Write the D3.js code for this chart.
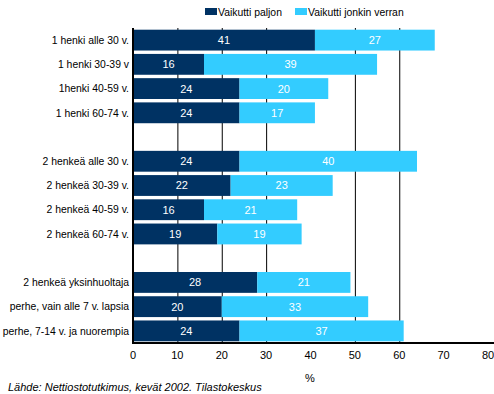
<!DOCTYPE html>
<html>
<head>
<meta charset="utf-8">
<script src="https://cdn.jsdelivr.net/npm/d3@7"></script>
<style>
    body { margin: 0; background: #fff; }
    text { font-family: "Liberation Sans", Arial, sans-serif; }
</style>
</head>
<body>
<div id="chart"></div>
<script>
// categories (gap1/gap2 are empty rows between the groups)
var categories = ["1 henki alle 30 v.", "1 henki 30-39 v", "1henki 40-59 v.", "1 henki 60-74 v.",
    "gap1",
    "2 henkeä alle 30 v.", "2 henkeä 30-39 v.", "2 henkeä 40-59 v.", "2 henkeä 60-74 v.",
    "gap2",
    "2 henkeä yksinhuoltaja", "perhe, vain alle 7 v. lapsia", "perhe, 7-14 v. ja nuorempia"];
var paljon = [41, 16, 24, 24, null, 24, 22, 16, 19, null, 28, 20, 24];
var jonkin = [27, 39, 20, 17, null, 40, 23, 21, 19, null, 21, 33, 37];
var seriesNames = ["Vaikutti paljon", "Vaikutti jonkin verran"];
var xTicks = [0, 10, 20, 30, 40, 50, 60, 70, 80];
var gridTicks = [10, 20, 30, 50, 60];

var colors = ["#003263", "#33ccff"];
var width = 494, height = 394;
var margin = { top: 28, right: 6, bottom: 51, left: 133 };

var svg = d3.select('#chart').append('svg')
    .attr('width', width)
    .attr('height', height);

var x = d3.scaleLinear()
    .domain([0, 80])
    .range([margin.left, margin.left + 355]);

var y = d3.scaleBand()
    .domain(categories)
    .range([margin.top, height - margin.bottom])
    .paddingInner(0.14)
    .paddingOuter(0.07);

var rows = categories.map(function (c, i) {
    return { cat: c, a: paljon[i], b: jonkin[i] };
}).filter(function (d) { return d.a !== null; });

// gridlines
svg.selectAll('line.grid')
    .data(gridTicks)
    .enter().append('line')
    .attr('class', 'grid')
    .attr('x1', function (d) { return x(d) + 0.5; })
    .attr('x2', function (d) { return x(d) + 0.5; })
    .attr('y1', margin.top)
    .attr('y2', height - margin.bottom)
    .attr('stroke', '#000')
    .attr('stroke-width', 1);

// bars
var bar = svg.selectAll('g.row')
    .data(rows)
    .enter().append('g')
    .attr('class', 'row');

bar.append('rect')
    .attr('x', x(0))
    .attr('y', function (d) { return y(d.cat); })
    .attr('width', function (d) { return x(d.a) - x(0); })
    .attr('height', y.bandwidth())
    .attr('fill', colors[0]);

bar.append('rect')
    .attr('x', function (d) { return x(d.a); })
    .attr('y', function (d) { return y(d.cat); })
    .attr('width', function (d) { return x(d.a + d.b) - x(d.a); })
    .attr('height', y.bandwidth())
    .attr('fill', colors[1]);

bar.append('text')
    .attr('x', function (d) { return (x(0) + x(d.a)) / 2; })
    .attr('y', function (d) { return y(d.cat) + y.bandwidth() / 2; })
    .attr('dy', '.36em')
    .attr('text-anchor', 'middle')
    .attr('fill', '#fff')
    .style('font-size', '11px')
    .text(function (d) { return d.a; });

bar.append('text')
    .attr('x', function (d) { return (x(d.a) + x(d.a + d.b)) / 2; })
    .attr('y', function (d) { return y(d.cat) + y.bandwidth() / 2; })
    .attr('dy', '.36em')
    .attr('text-anchor', 'middle')
    .attr('fill', '#fff')
    .style('font-size', '11px')
    .text(function (d) { return d.b; });

// category labels
svg.selectAll('text.cat')
    .data(rows)
    .enter().append('text')
    .attr('class', 'cat')
    .attr('x', margin.left - 4)
    .attr('y', function (d) { return y(d.cat) + y.bandwidth() / 2; })
    .attr('dy', '.36em')
    .attr('text-anchor', 'end')
    .attr('fill', '#000')
    .style('font-size', '10.4px')
    .text(function (d) { return d.cat; });

// axes lines
svg.append('line')
    .attr('x1', x(0))
    .attr('x2', x(0))
    .attr('y1', margin.top)
    .attr('y2', height - margin.bottom + 1)
    .attr('stroke', '#000')
    .attr('stroke-width', 2);

svg.append('line')
    .attr('x1', x(0) - 1)
    .attr('x2', width)
    .attr('y1', height - margin.bottom)
    .attr('y2', height - margin.bottom)
    .attr('stroke', '#000')
    .attr('stroke-width', 2);

// x tick labels
svg.selectAll('text.tick')
    .data(xTicks)
    .enter().append('text')
    .attr('class', 'tick')
    .attr('x', function (d) { return x(d); })
    .attr('y', height - margin.bottom + 16)
    .attr('text-anchor', 'middle')
    .style('font-size', '11px')
    .text(function (d) { return d; });

svg.append('text')
    .attr('x', 310)
    .attr('y', 382)
    .attr('text-anchor', 'middle')
    .style('font-size', '11px')
    .text('%');

svg.append('text')
    .attr('x', 8)
    .attr('y', 391)
    .style('font-size', '11px')
    .style('font-style', 'italic')
    .text('Lähde: Nettiostotutkimus, kevät 2002. Tilastokeskus');

// legend
var legendX = [205, 295];
var legend = svg.selectAll('g.legend')
    .data(seriesNames)
    .enter().append('g')
    .attr('class', 'legend')
    .attr('transform', function (d, i) { return 'translate(' + legendX[i] + ',8)'; });

legend.append('rect')
    .attr('width', 12)
    .attr('height', 7)
    .attr('fill', function (d, i) { return colors[i]; });

legend.append('text')
    .attr('x', 13)
    .attr('y', 4)
    .attr('dy', '.36em')
    .style('font-size', '10.4px')
    .text(function (d) { return d; });
</script>
</body>
</html>
